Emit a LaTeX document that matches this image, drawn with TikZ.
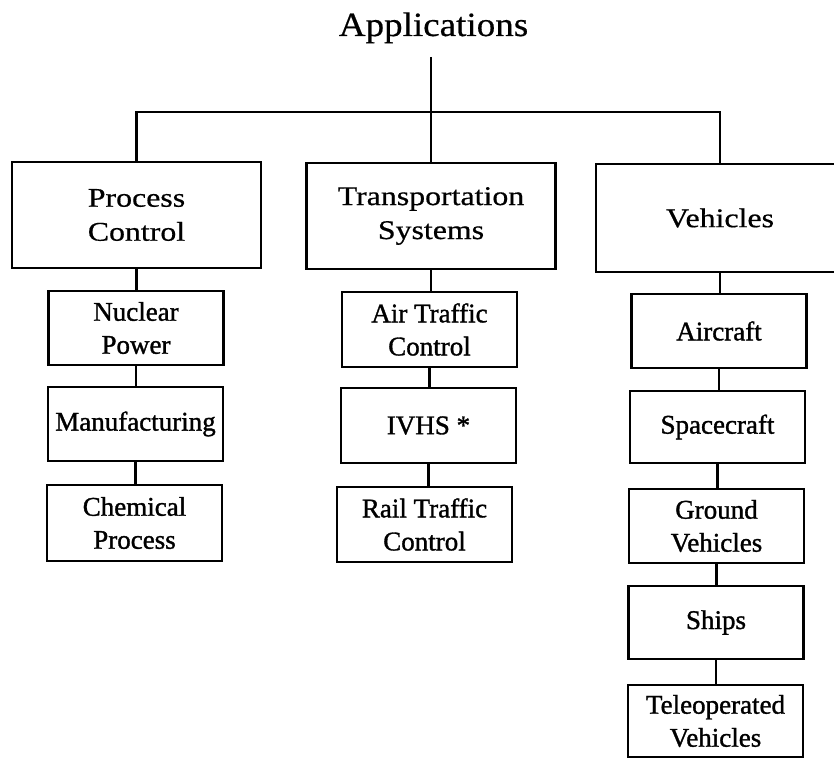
\documentclass[tikz,border=0pt]{standalone}
\usepackage{fontspec}
\setmainfont{Liberation Serif}
\newfontfamily\subfont[FakeBold=1.2]{Liberation Serif}
\newfontfamily\widefont[FakeStretch=1.18,FakeBold=0.6]{Liberation Serif}
\newfontfamily\titlefont[FakeStretch=1.09,FakeBold=0.5]{Liberation Serif}
\begin{document}
\begin{tikzpicture}[x=1pt,y=-1pt,
  box/.style={draw,line width=2.2pt,align=center,inner sep=0pt},
  topbox/.style={box,minimum width=249pt,minimum height=106pt,font=\widefont\fontsize{27}{34}\selectfont},
  subbox/.style={box,minimum width=175pt,minimum height=74pt,font=\subfont\fontsize{27}{33}\selectfont},
  link/.style={line width=2.2pt}]
\useasboundingbox (0,0) rectangle (834,759);
\fill[white] (0,0) rectangle (834,759);
% title
\node[anchor=base,inner sep=0pt,font=\titlefont\fontsize{34}{40}\selectfont] (title) at (433.5,36) {Applications};
\coordinate (tstart) at (431,57);
\coordinate (hub) at (431,112);
% top boxes
\node[topbox] (pc) at (136.5,215) {Process\\Control};
\node[topbox] (ts) at (431,216) {Transportation\\Systems};
\node[topbox,minimum width=248pt,minimum height=108pt] (veh) at (720,218) {Vehicles};
% process control column
\node[subbox] (np) at (136,328) {Nuclear\\Power};
\node[subbox] (mf) at (135.5,424) {Manufacturing};
\node[subbox,minimum height=76pt] (cp) at (134.5,523) {Chemical\\Process};
% transportation column
\node[subbox,minimum height=75pt] (atc) at (429.5,329.5) {Air Traffic\\Control};
\node[subbox,minimum height=75pt] (ivhs) at (428.5,425.5) {IVHS *};
\node[subbox,minimum height=75pt] (rtc) at (424.5,524.5) {Rail Traffic\\Control};
% vehicles column
\node[subbox] (ac) at (719,331) {Aircraft};
\node[subbox,minimum height=72pt] (sc) at (717.5,427) {Spacecraft};
\node[subbox] (gv) at (716.5,526) {Ground\\Vehicles};
\node[subbox,minimum height=73pt] (sh) at (716,622.5) {Ships};
\node[subbox,minimum height=72pt] (tv) at (715.5,721) {Teleoperated\\Vehicles};
% connectors
\draw[link] (tstart) -- (hub);
\draw[link] (pc.north) |- (hub) -| (veh.north);
\draw[link] (ts.north) -- (hub);
\draw[link] (pc.south) -- (pc.south |- np.north);
\draw[link] (np.south) -- (np.south |- mf.north);
\draw[link] (mf.south) -- (mf.south |- cp.north);
\draw[link] (ts.south) -- (ts.south |- atc.north);
\draw[link] (atc.south) -- (atc.south |- ivhs.north);
\draw[link] (ivhs.south) -- (ivhs.south |- rtc.north);
\draw[link] (veh.south) -- (veh.south |- ac.north);
\draw[link] (ac.south) -- (ac.south |- sc.north);
\draw[link] (sc.south) -- (sc.south |- gv.north);
\draw[link] (gv.south) -- (gv.south |- sh.north);
\draw[link] (sh.south) -- (sh.south |- tv.north);
\end{tikzpicture}
\end{document}
